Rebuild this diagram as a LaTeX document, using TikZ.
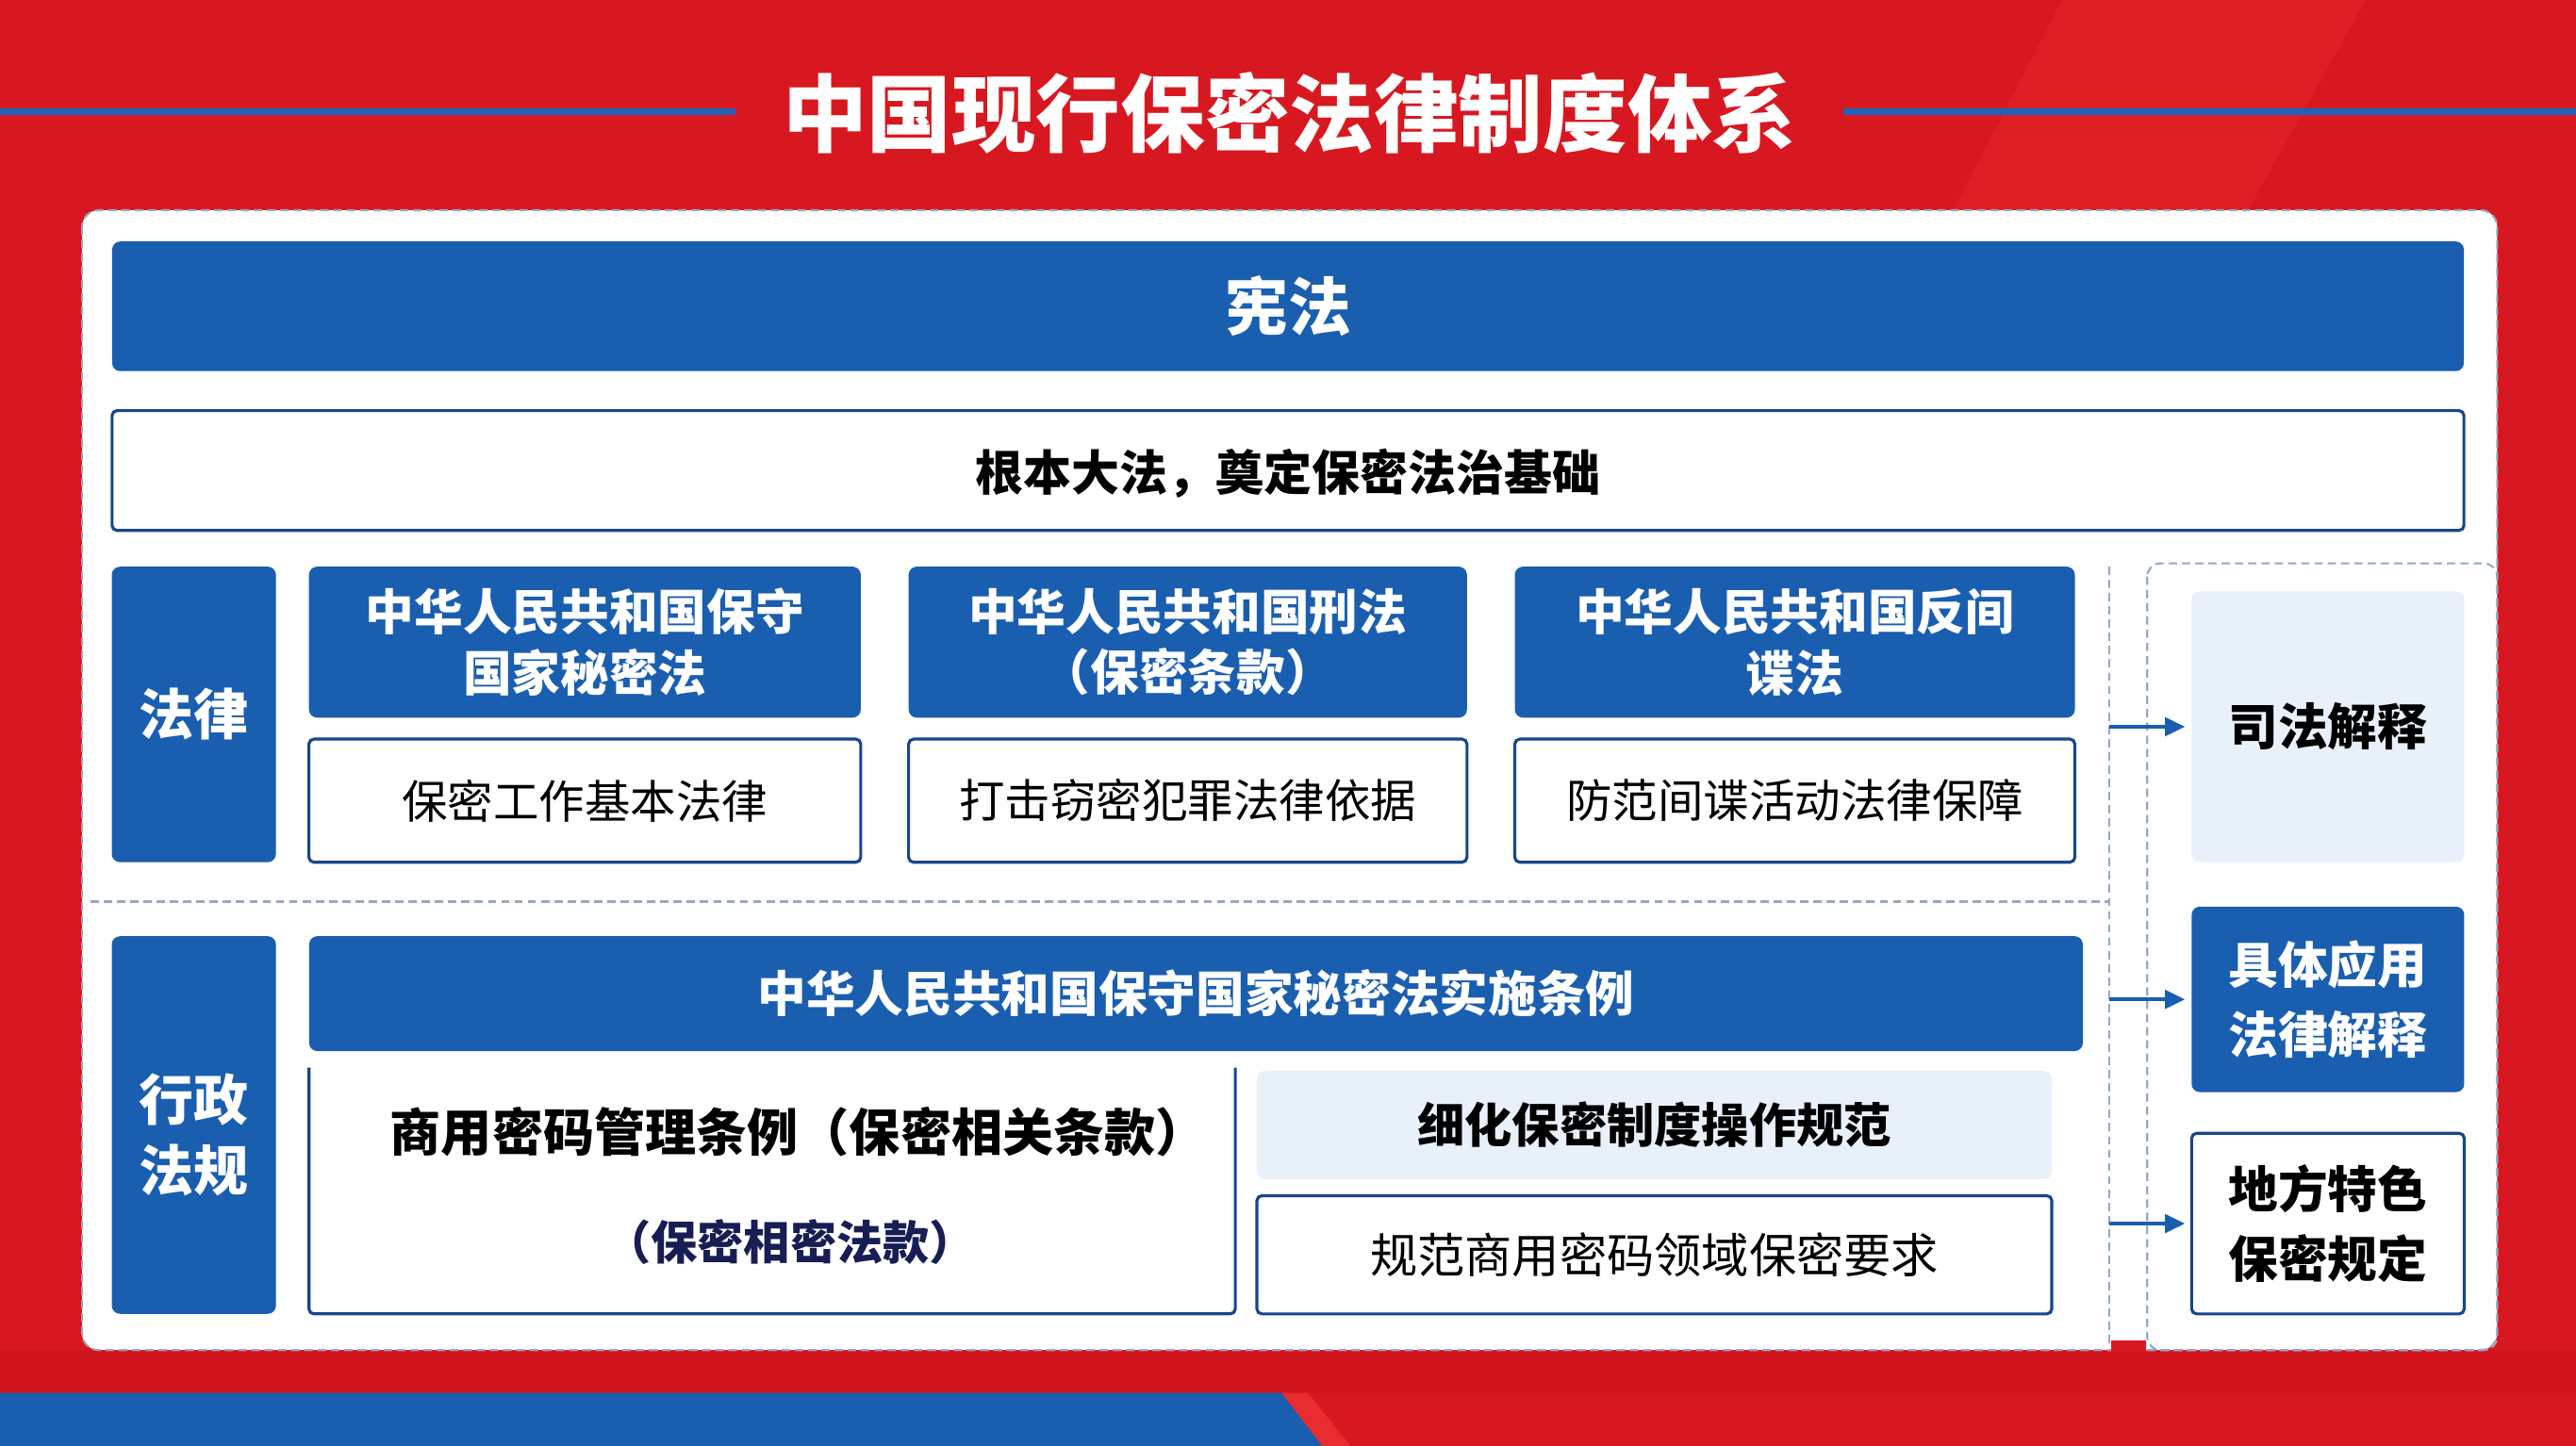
\documentclass[tikz,border=0pt]{standalone}
\usepackage{fontspec}
\setmainfont{Noto Sans CJK SC}
\usetikzlibrary{arrows.meta}
\definecolor{bgred}{RGB}{216,24,32}
\definecolor{bgredd}{RGB}{204,18,28}
\definecolor{bgredl}{RGB}{232,44,48}
\definecolor{mblue}{RGB}{26,94,176}
\definecolor{lineblue}{RGB}{30,98,186}
\definecolor{dblue}{RGB}{24,70,140}
\definecolor{lblue}{RGB}{232,241,250}
\definecolor{navy}{RGB}{22,30,84}
\definecolor{dashgray}{RGB}{150,168,195}
\tikzset{
  bluebox/.style={fill=mblue, rounded corners=2.5pt, text=white, font=\bfseries, align=center},
  whitebox/.style={fill=white, draw=dblue, line width=0.9pt, rounded corners=1.5pt, align=center},
  lightbox/.style={fill=lblue, rounded corners=2.5pt, align=center},
  plainbox/.style={fill=white, align=center},
  dashln/.style={draw=dashgray, dash pattern=on 2.5pt off 1.5pt, line width=0.6pt},
  arr/.style={draw=mblue, line width=1.1pt, -{Triangle[length=6pt,width=5.5pt]}},
}
\newcommand\bxx[7]{\node[#6, inner sep=0pt, outer sep=0pt,
  minimum width={(#4-#2)*0.49565pt}, minimum height={(#5-#3)*0.49565pt}]
  (#1) at ({(#2+#4)/2},{(#3+#5)/2}) {#7};}
\newcommand\fsz[2]{\fontsize{#1}{#2}\selectfont}
\begin{document}
\begin{tikzpicture}[x=0.01742cm, y=-0.01742cm]
\useasboundingbox (0,0) rectangle (1568,880.4);
% background
\fill[bgred] (0,0) rectangle (1568,880.4);
\fill[bgredl, opacity=0.35] (1255,0) -- (1440,0) -- (1250,340) -- (1080,340) -- cycle;
\fill[bgredd, opacity=0.5] (0,822) rectangle (1568,848);
\fill[mblue] (0,848) -- (780,848) -- (805,880.4) -- (0,880.4) -- cycle;
\fill[bgredl] (780,848) -- (796,848) -- (822,880.4) -- (805,880.4) -- cycle;
% title
\node[font=\bfseries\fsz{25.5}{30}, text=white, inner xsep=14pt] (title) at (785,69) {中国现行保密法律制度体系};
\coordinate (tl) at (0,68);
\coordinate (tr) at (1568,68);
\draw[lineblue, line width=2pt] (tl) -- (title.west |- tl);
\draw[lineblue, line width=2pt] (title.east |- tr) -- (tr);
% main panel
\fill[white, rounded corners=5pt] (50,128) rectangle (1520,822);
\draw[dashln, rounded corners=5pt] (50,128) rectangle (1520,822);
\fill[bgred] (1285,816) rectangle (1306,823);
\draw[dashln, rounded corners=4pt] (1307,343) rectangle (1520,822);
\draw[dashln] (55,549) -- (1284,549);
\draw[dashln] (1284,345) -- (1284,818);
% top rows
\bxx{xf}{68}{147}{1500}{226}{bluebox, font=\bfseries\fsz{19}{23}}{宪法}
\bxx{gb}{68}{250}{1500}{323}{whitebox}{}
\node[font=\bfseries\fsz{14.5}{18}] (gbt) at ([yshift=-1pt]gb.center) {根本大法，奠定保密法治基础};
% laws
\bxx{fl}{68}{345}{168}{525}{bluebox, font=\bfseries\fsz{16.5}{21}}{法律}
\bxx{l1h}{188}{345}{524}{437}{bluebox, font=\bfseries\fsz{14.7}{18.3}}{中华人民共和国保守\\国家秘密法}
\bxx{l1d}{188}{450}{524}{525}{whitebox, font=\fsz{13.8}{17}}{保密工作基本法律}
\bxx{l2h}{553}{345}{893}{437}{bluebox, font=\bfseries\fsz{14.7}{18.3}}{中华人民共和国刑法\\（保密条款）}
\bxx{l2d}{553}{450}{893}{525}{whitebox, font=\fsz{13.8}{17}}{打击窃密犯罪法律依据}
\bxx{l3h}{922}{345}{1263}{437}{bluebox, font=\bfseries\fsz{14.7}{18.3}}{中华人民共和国反间\\谍法}
\bxx{l3d}{922}{450}{1263}{525}{whitebox, font=\fsz{13.8}{17}}{防范间谍活动法律保障}
% regulations
\bxx{xz}{68}{570}{168}{800}{bluebox}{}
\node[font=\bfseries\fsz{16.5}{21.3}, text=white, align=center] (xzt) at ([yshift=-3pt]xz.center) {行政\\法规};
\bxx{ss}{188}{570}{1268}{640}{bluebox, font=\bfseries\fsz{14.7}{18}}{中华人民共和国保守国家秘密法实施条例}
\bxx{sm}{188}{650}{752}{800}{plainbox}{}
\draw[dblue, line width=0.9pt, rounded corners=1.5pt] (sm.north west) -- (sm.south west) -- (sm.south east) -- (sm.north east);
\node[font=\bfseries\fsz{15.4}{18}, text=black] (smt1) at (486,689) {商用密码管理条例（保密相关条款）};
\node[font=\bfseries\fsz{14}{16}, text=navy] (smt2) at (481,756) {（保密相密法款）};
\bxx{xh}{765}{652}{1249}{718}{lightbox, font=\bfseries\fsz{14.3}{17}}{细化保密制度操作规范}
\bxx{gf}{765}{728}{1249}{800}{whitebox, font=\fsz{14.3}{17}}{规范商用密码领域保密要求}
% right column
\bxx{sf}{1334}{360}{1500}{525}{lightbox, font=\bfseries\fsz{15}{20.8}}{司法解释}
\bxx{jt}{1334}{552}{1500}{665}{bluebox, font=\bfseries\fsz{15}{20.8}}{具体应用\\法律解释}
\bxx{df}{1334}{690}{1500}{800}{whitebox, font=\bfseries\fsz{15}{20.8}}{地方特色\\保密规定}
% arrows
\coordinate (a1) at (1284,442.5);
\coordinate (a2) at (1284,608.5);
\coordinate (a3) at (1284,745);
\draw[arr] (a1) -- ([xshift=-2pt]sf.west);
\draw[arr] (a2) -- ([xshift=-2pt]jt.west);
\draw[arr] (a3) -- ([xshift=-2pt]df.west);
\end{tikzpicture}
\end{document}
